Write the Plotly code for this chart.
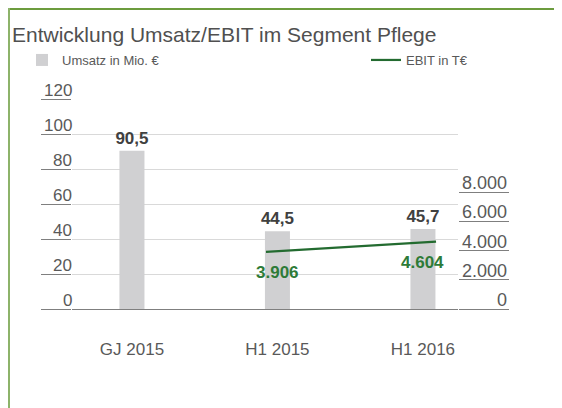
import plotly.graph_objects as go

# ---- data ----
categories = ["GJ 2015", "H1 2015", "H1 2016"]
umsatz = [90.5, 44.5, 45.7]          # Mio. €
ebit_categories = ["H1 2015", "H1 2016"]
ebit = [3906, 4604]                  # T€
left_ticks = [0, 20, 40, 60, 80, 100, 120]
left_tick_labels = ["0", "20", "40", "60", "80", "100", "120"]
right_ticks = [0, 2000, 4000, 6000, 8000]
right_tick_labels = ["0", "2.000", "4.000", "6.000", "8.000"]

FONT = "Liberation Sans, Arial, sans-serif"
GRAY_TXT = "#595959"
DARK_TXT = "#404040"
AXIS_COL = "#7f7f7f"
GRID_COL = "#d9d9d9"
BAR_COL = "#d0d0d2"
LINE_COL = "#236b30"
EBIT_TXT = "#2e7b38"
FRAME_TOP = "#6c9c3e"
FRAME_LEFT = "#8db36a"

# page has an 8px body margin -> work in page coordinates and subtract it
OFF = 8
W, H = 562 - OFF, 408 - OFF
L, R, T, B = 72 - OFF, 104, 99 - OFF, 99
pw, ph = W - L - R, H - T - B


def px_x(p):
    """page x pixel -> paper coordinate"""
    return (p - OFF - L) / pw


def px_y(p):
    """page y pixel -> paper coordinate"""
    return (H - B - (p - OFF)) / ph


fig = go.Figure()

fig.add_trace(go.Bar(
    x=categories, y=umsatz, name="Umsatz in Mio. €",
    marker=dict(color=BAR_COL, line=dict(width=0)),
    width=0.172,
    texttemplate="%{y:.1f}", textposition="outside", constraintext="none",
    textfont=dict(family=FONT, size=17, color=DARK_TXT, weight="bold"),
    cliponaxis=False,
    legend="legend",
    xaxis="x", yaxis="y",
))

fig.add_trace(go.Scatter(
    x=ebit_categories, y=ebit, name="EBIT in T€",
    mode="lines", line=dict(color=LINE_COL, width=2.2),
    legend="legend2",
    xaxis="x2", yaxis="y2",
))

annotations = []
for c, v in zip(ebit_categories, ebit):
    annotations.append(dict(
        x=c, y=v, xref="x", yref="y2", text=f"{v:,}".replace(",", "."),
        showarrow=False, yanchor="middle", yshift=-21,
        font=dict(family=FONT, size=17, color=EBIT_TXT, weight="bold"),
    ))
for v, t in zip(left_ticks, left_tick_labels):
    annotations.append(dict(
        x=px_x(74), y=v, xref="paper", yref="y", text=t, showarrow=False,
        xanchor="right", yanchor="bottom", yshift=-3,
        font=dict(family=FONT, size=17, color=GRAY_TXT),
    ))
for v, t in zip(right_ticks, right_tick_labels):
    annotations.append(dict(
        x=px_x(509), y=v, xref="paper", yref="y2", text=t, showarrow=False,
        xanchor="right", yanchor="bottom", yshift=-3,
        font=dict(family=FONT, size=18, color=GRAY_TXT),
    ))

shapes = [
    dict(type="line", xref="paper", yref="paper", x0=px_x(OFF), x1=px_x(570),
         y0=px_y(OFF + 1), y1=px_y(OFF + 1), line=dict(color=FRAME_TOP, width=2)),
    dict(type="line", xref="paper", yref="paper", x0=px_x(OFF + 1), x1=px_x(OFF + 1),
         y0=px_y(OFF), y1=px_y(420), line=dict(color=FRAME_LEFT, width=2)),
]

fig.update_layout(
    width=W, height=H,
    margin=dict(l=L, r=R, t=T, b=B, autoexpand=False),
    paper_bgcolor="white", plot_bgcolor="white",
    separators=",.",
    showlegend=True,
    font=dict(family=FONT, color=GRAY_TXT),
    title=dict(text="Entwicklung Umsatz/EBIT im Segment Pflege",
               x=(12 - OFF) / W, xanchor="left", xref="container",
               y=1 - (35 - OFF) / H, yanchor="middle", yref="container",
               font=dict(family=FONT, size=21, color="#505050")),
    xaxis=dict(type="category", categoryorder="array", categoryarray=categories,
               range=[-0.412, 2.241], showgrid=False, zeroline=False,
               showline=True, linecolor=AXIS_COL, linewidth=1,
               ticks="", ticklabelstandoff=25,
               tickfont=dict(family=FONT, size=17, color=GRAY_TXT)),
    xaxis2=dict(type="category", categoryorder="array", categoryarray=categories,
                overlaying="x", range=[-0.141, 2.129], visible=False),
    yaxis=dict(range=[0, 120], tickvals=left_ticks, showticklabels=False,
               ticks="outside", ticklen=30, tickcolor=AXIS_COL, tickwidth=1,
               showgrid=True, gridcolor=GRID_COL, gridwidth=1,
               zeroline=False, showline=False),
    yaxis2=dict(range=[0, 14360], overlaying="y", side="right", anchor="x",
                tickvals=right_ticks, showticklabels=False,
                ticks="outside", ticklen=50, tickcolor=AXIS_COL, tickwidth=1,
                showgrid=False, zeroline=False, showline=False),
    legend=dict(x=px_x(22), y=px_y(60), xanchor="left", yanchor="middle",
                orientation="h", bgcolor="rgba(0,0,0,0)",
                font=dict(family=FONT, size=13, color=GRAY_TXT)),
    legend2=dict(x=px_x(366), y=px_y(60), xanchor="left", yanchor="middle",
                 orientation="h", bgcolor="rgba(0,0,0,0)",
                 font=dict(family=FONT, size=13, color=GRAY_TXT)),
    annotations=annotations,
    shapes=shapes,
    bargap=0.5,
)

fig.write_html("out.html")
